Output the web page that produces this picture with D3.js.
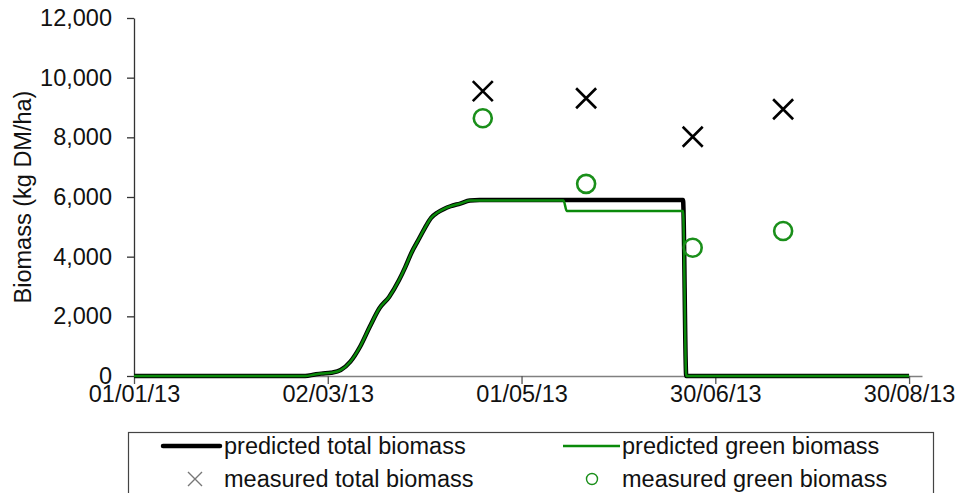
<!DOCTYPE html>
<html><head><meta charset="utf-8">
<script src="https://cdn.jsdelivr.net/npm/d3@7"></script>
<style>
html,body{margin:0;padding:0;background:#fff;}
svg{display:block;font-family:"Liberation Sans",Arial,sans-serif;}
</style></head>
<body><svg id="chart" width="959" height="493"></svg>
<script>
// Day numbers counted from 01/01/13 (day 0)
const xTickDays = [0, 60, 120, 180, 240];
const xTickLabels = ["01/01/13", "02/03/13", "01/05/13", "30/06/13", "30/08/13"];
const yTicks = [0, 2000, 4000, 6000, 8000, 10000, 12000];

// predicted total biomass (kg DM/ha)
const predTotalDays   = [0, 53, 56, 58, 61, 64, 67, 70, 73, 76, 79, 82, 84, 86, 88, 90, 92, 94, 96, 98, 101, 104, 107, 170, 171, 240];
const predTotalValues = [0, 0, 50, 80, 110, 200, 480, 980, 1650, 2270, 2650, 3200, 3650, 4150, 4550, 4950, 5300, 5480, 5600, 5690, 5780, 5880, 5900, 5900, 0, 0];
// predicted green biomass
const predGreenDays   = [0, 53, 56, 58, 61, 64, 67, 70, 73, 76, 79, 82, 84, 86, 88, 90, 92, 94, 96, 98, 101, 104, 107, 133, 134, 170, 171, 240];
const predGreenValues = [0, 0, 50, 80, 110, 200, 480, 980, 1650, 2270, 2650, 3200, 3650, 4150, 4550, 4950, 5300, 5480, 5600, 5690, 5780, 5880, 5880, 5880, 5530, 5530, 0, 0];
// measurements
const measDays = [108, 140, 173, 201];
const measTotal = [9550, 9310, 8020, 8940];
const measGreen = [8640, 6440, 4300, 4860];

const legendItems = ["predicted total biomass", "predicted green biomass", "measured total biomass", "measured green biomass"];
const yTitle = "Biomass (kg DM/ha)";

const svg = d3.select("#chart");
const FONT = 23.5;
const x = d3.scaleLinear().domain([0, 244]).range([134, 922]);
const y = d3.scaleLinear().domain([0, 12000]).range([376, 18]);

// axes
const yAxis = svg.append("g").attr("transform", "translate(134,0)")
  .call(d3.axisLeft(y).tickValues(yTicks).tickSize(7).tickSizeOuter(0).tickPadding(15).tickFormat(d3.format(",")));
yAxis.select(".domain").attr("stroke", "#333").attr("stroke-width", 1.3);
yAxis.selectAll(".tick line").attr("stroke", "#333").attr("stroke-width", 1.3);
yAxis.selectAll("text").attr("font-size", FONT).attr("fill", "#111").attr("font-family", "Liberation Sans, Arial, sans-serif");

const xAxis = svg.append("g").attr("transform", "translate(0,376)")
  .call(d3.axisBottom(x).tickValues(xTickDays).tickSize(8).tickSizeOuter(0).tickPadding(1)
    .tickFormat((d, i) => xTickLabels[i]));
xAxis.select(".domain").attr("stroke", "#808080").attr("stroke-width", 1.5);
xAxis.selectAll(".tick line").attr("stroke", "#555").attr("stroke-width", 1.3);
xAxis.selectAll("text").attr("font-size", FONT).attr("fill", "#111").attr("font-family", "Liberation Sans, Arial, sans-serif");

svg.append("text").attr("transform", "translate(31,197) rotate(-90)")
  .attr("text-anchor", "middle").attr("font-size", FONT).attr("fill", "#111").text(yTitle);

// lines
const line = d3.line().x(d => x(d[0])).y(d => y(d[1])).curve(d3.curveMonotoneX);
svg.append("path").datum(predTotalDays.map((d, i) => [d, predTotalValues[i]]))
  .attr("d", line).attr("fill", "none").attr("stroke", "#000").attr("stroke-width", 4.5).attr("stroke-linejoin", "round");
svg.append("path").datum(predGreenDays.map((d, i) => [d, predGreenValues[i]]))
  .attr("d", line).attr("fill", "none").attr("stroke", "#0a8a0a").attr("stroke-width", 2.5).attr("stroke-linejoin", "round");

// measured total (X)
const xs = 10;
svg.append("g").selectAll("path").data(measDays.map((d, i) => [d, measTotal[i]])).join("path")
  .attr("transform", d => `translate(${x(d[0])},${y(d[1])})`)
  .attr("d", `M${-xs},${-xs}L${xs},${xs}M${-xs},${xs}L${xs},${-xs}`)
  .attr("stroke", "#000").attr("stroke-width", 2.6).attr("fill", "none");
// measured green (O)
svg.append("g").selectAll("circle").data(measDays.map((d, i) => [d, measGreen[i]])).join("circle")
  .attr("cx", d => x(d[0])).attr("cy", d => y(d[1])).attr("r", 9)
  .attr("fill", "none").attr("stroke", "#1a8f1a").attr("stroke-width", 2.6);

// legend
const lg = svg.append("g");
lg.append("rect").attr("x", 128.5).attr("y", 432.5).attr("width", 805).attr("height", 80)
  .attr("fill", "#fff").attr("stroke", "#444").attr("stroke-width", 1.2);
const rows = [446, 479];
const cols = [{ls: 163, le: 220, tx: 224}, {ls: 563, le: 620, tx: 622}];
lg.append("line").attr("x1", cols[0].ls).attr("x2", cols[0].le).attr("y1", rows[0]).attr("y2", rows[0])
  .attr("stroke", "#000").attr("stroke-width", 4.5).attr("stroke-linecap", "round");
lg.append("line").attr("x1", cols[1].ls).attr("x2", cols[1].le).attr("y1", rows[0]).attr("y2", rows[0])
  .attr("stroke", "#0a8a0a").attr("stroke-width", 2.5);
lg.append("path").attr("transform", `translate(195,${rows[1]})`)
  .attr("d", "M-7,-7L7,7M-7,7L7,-7").attr("stroke", "#777").attr("stroke-width", 1.4);
lg.append("circle").attr("cx", 592).attr("cy", rows[1]).attr("r", 5.5)
  .attr("fill", "none").attr("stroke", "#1a8f1a").attr("stroke-width", 1.4);
const pos = [[cols[0].tx, rows[0]], [cols[1].tx, rows[0]], [cols[0].tx, rows[1]], [cols[1].tx, rows[1]]];
lg.selectAll("text.leg").data(legendItems).join("text").attr("class", "leg")
  .attr("x", (d, i) => pos[i][0]).attr("y", (d, i) => pos[i][1]).attr("dy", "0.35em")
  .attr("font-size", FONT).attr("fill", "#111").text(d => d);
</script></body></html>
